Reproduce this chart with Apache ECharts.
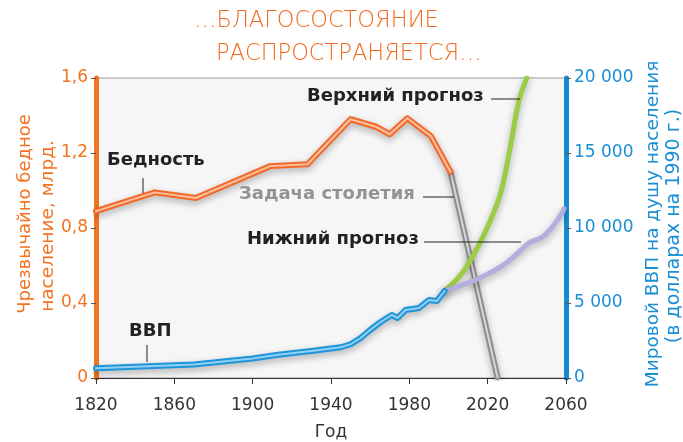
<!DOCTYPE html>
<html><head><meta charset="utf-8">
<script src="https://cdn.jsdelivr.net/npm/echarts@6/dist/echarts.min.js"></script>
<style>html,body{margin:0;padding:0;background:#fff}#c{width:683px;height:442px}</style>
</head><body><div id="c"></div>
<script>
var povertyYears = [1820, 1850, 1871, 1909, 1928, 1950, 1963, 1970, 1979, 1991, 2001];
var povertyVals  = [0.89, 0.99, 0.96, 1.13, 1.14, 1.38, 1.34, 1.30, 1.385, 1.29, 1.10];
var goalYears = [2001, 2025];
var goalVals  = [1.10, 0.005];
var gdpYears = [1820, 1850, 1870, 1900, 1913, 1930, 1940, 1945, 1950, 1955, 1960, 1965, 1971, 1974, 1978, 1985, 1990, 1994, 1998];
var gdpVals  = [650, 800, 900, 1300, 1550, 1800, 1960, 2050, 2250, 2650, 3200, 3700, 4200, 4000, 4530, 4670, 5200, 5130, 5800];
var upperYears = [1998, 2007, 2016, 2023, 2027, 2031, 2036, 2040];
var upperVals  = [5800, 7000, 9000, 11000, 12500, 15000, 18500, 20000];
var lowerYears = [1998, 2016, 2028, 2036, 2041, 2048, 2053, 2058, 2059];
var lowerVals  = [5800, 6670, 7530, 8400, 9000, 9400, 10070, 11000, 11300];
var xTicks = [1820, 1860, 1900, 1940, 1980, 2020, 2060];
var leftTicks = [0, 0.4, 0.8, 1.2, 1.6];
var rightTicks = [0, 5000, 10000, 15000, 20000];

function pairs(xs, ys){ return xs.map(function(x,i){return [x, ys[i]];}); }
var FONT = 'DejaVu Sans';
var shadow = {shadowColor:'rgba(0,0,0,0.3)', shadowBlur:7, shadowOffsetY:3};

function lineSeries(data, color, width, yIdx, z, withShadow, smooth){
  var ls = {color: color, width: width, cap:'round', join:'round'};
  if (withShadow) Object.assign(ls, shadow);
  return {type:'line', data:data, yAxisIndex:yIdx, symbol:'none', smooth: smooth||false,
          lineStyle: ls, z: z, silent:true, animation:false};
}

var chart = echarts.init(document.getElementById('c'));
chart.setOption({
  animation:false,
  backgroundColor:'#fff',
  grid:{left:96, right:117, top:78, bottom:64, outerBoundsMode:'none', containLabel:false, show:true, backgroundColor:'#f6f6f6', borderColor:'#9a9a9a', borderWidth:1},
  xAxis:{type:'value', min:1820, max:2060, interval:40,
    name:'Год', nameLocation:'middle', nameGap:46, nameTextStyle:{fontFamily:FONT, fontSize:17, color:'#333'},
    axisLine:{lineStyle:{color:'#333', width:1}}, axisTick:{length:6, lineStyle:{color:'#333'}},
    axisLabel:{fontFamily:FONT, fontSize:17, color:'#333', margin:19, formatter:function(v){return String(v);}},
    splitLine:{show:false}},
  yAxis:[
    {type:'value', min:0, max:1.6, interval:0.4, position:'left',
     axisLine:{show:true, lineStyle:{color:'#f37321', width:5}},
     axisTick:{show:true, length:5, lineStyle:{color:'#555'}},
     axisLabel:{fontFamily:FONT, fontSize:17, color:'#f37321', margin:8, formatter:function(v){return v===0?'0':v.toFixed(1).replace('.',',');}},
     splitLine:{show:false}},
    {type:'value', min:0, max:20000, interval:5000, position:'right',
     axisLine:{show:true, lineStyle:{color:'#138bd2', width:5}},
     axisTick:{show:true, length:5, lineStyle:{color:'#555'}},
     axisLabel:{fontFamily:FONT, fontSize:17, color:'#1a8fd4', margin:8, formatter:function(v){return v===0?'0':(String(Math.floor(v/1000))+' 000');}},
     splitLine:{show:false}}
  ],
  series:[
    lineSeries(pairs(goalYears, goalVals), '#8d8d8d', 6, 0, 3, true),
    lineSeries(pairs(goalYears, goalVals), '#d6d6d6', 2, 0, 4, false),
    lineSeries(pairs(upperYears, upperVals), '#9ccc45', 5, 1, 5, true, 0.35),
    lineSeries(pairs(lowerYears, lowerVals), '#b4aede', 5, 1, 5, true, 0.35),
    lineSeries(pairs(gdpYears, gdpVals), '#1f95d9', 6, 1, 6, true),
    lineSeries(pairs(gdpYears, gdpVals), '#8fd0f3', 2, 1, 7, false),
    lineSeries(pairs(povertyYears, povertyVals), '#f26a2a', 6, 0, 8, true),
    lineSeries(pairs(povertyYears, povertyVals), '#fcc0a0', 2, 0, 9, false)
  ],
  graphic:[
    {type:'text', left:194, top:10, style:{text:'…БЛАГОСОСТОЯНИЕ', font:'300 22.5px "DejaVu Sans"', fill:'#f26a1e'}},
    {type:'text', left:216, top:43, style:{text:'РАСПРОСТРАНЯЕТСЯ…', font:'300 22.5px "DejaVu Sans"', fill:'#f26a1e'}},
    {type:'text', x:25, y:214, rotation:Math.PI/2, style:{text:'Чрезвычайно бедное', font:'18px "DejaVu Sans"', fill:'#f37321', align:'center', verticalAlign:'middle'}},
    {type:'text', x:48, y:226, rotation:Math.PI/2, style:{text:'население, млрд.', font:'18.5px "DejaVu Sans"', fill:'#f37321', align:'center', verticalAlign:'middle'}},
    {type:'text', x:653, y:224, rotation:Math.PI/2, style:{text:'Мировой ВВП на душу населения', font:'18.5px "DejaVu Sans"', fill:'#1a8fd4', align:'center', verticalAlign:'middle'}},
    {type:'text', x:674, y:226, rotation:Math.PI/2, style:{text:'(в долларах на 1990 г.)', font:'19px "DejaVu Sans"', fill:'#1a8fd4', align:'center', verticalAlign:'middle'}},
    {type:'text', left:107, top:151, z:20, style:{text:'Бедность', font:'bold 18px "DejaVu Sans"', fill:'#222'}},
    {type:'line', z:20, shape:{x1:143, y1:178, x2:143, y2:193}, style:{stroke:'#222', lineWidth:1}},
    {type:'text', left:307, top:87, z:20, style:{text:'Верхний прогноз', font:'bold 18px "DejaVu Sans"', fill:'#222'}},
    {type:'line', z:20, shape:{x1:491, y1:99, x2:520, y2:99}, style:{stroke:'#222', lineWidth:1}},
    {type:'text', left:239, top:185, z:20, style:{text:'Задача столетия', font:'bold 18px "DejaVu Sans"', fill:'#939393'}},
    {type:'line', z:20, shape:{x1:423, y1:197, x2:454, y2:197}, style:{stroke:'#222', lineWidth:1}},
    {type:'text', left:247, top:230, z:20, style:{text:'Нижний прогноз', font:'bold 18px "DejaVu Sans"', fill:'#222'}},
    {type:'line', z:20, shape:{x1:424, y1:242, x2:521, y2:242}, style:{stroke:'#222', lineWidth:1}},
    {type:'text', left:129, top:322, z:20, style:{text:'ВВП', font:'bold 18px "DejaVu Sans"', fill:'#222'}},
    {type:'line', z:20, shape:{x1:147, y1:345, x2:147, y2:362}, style:{stroke:'#222', lineWidth:1}}
  ]
});
</script></body></html>
